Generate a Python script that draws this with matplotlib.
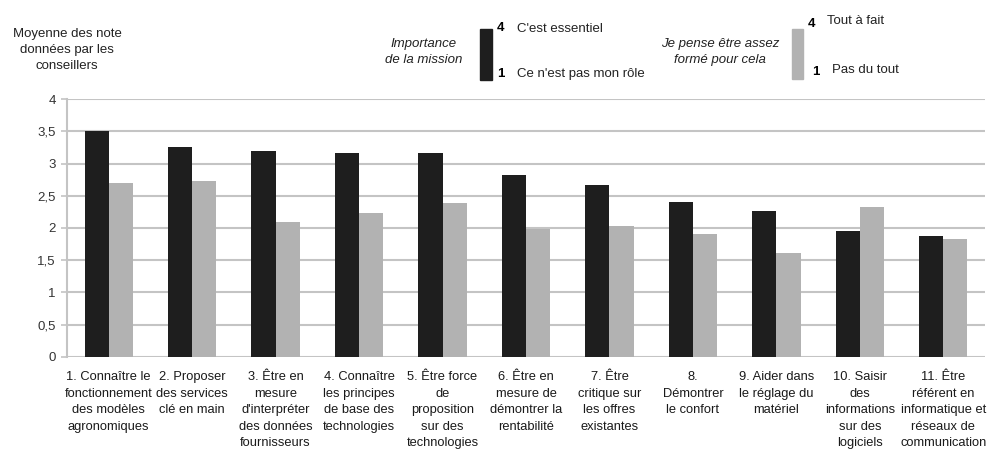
import matplotlib
matplotlib.use("Agg")
import matplotlib.pyplot as plt
from matplotlib.patches import Rectangle
import numpy as np

categories = [
    "1. Connaître le\nfonctionnement\ndes modèles\nagronomiques",
    "2. Proposer\ndes services\nclé en main",
    "3. Être en\nmesure\nd'interpréter\ndes données\nfournisseurs",
    "4. Connaître\nles principes\nde base des\ntechnologies",
    "5. Être force\nde\nproposition\nsur des\ntechnologies",
    "6. Être en\nmesure de\ndémontrer la\nrentabilité",
    "7. Être\ncritique sur\nles offres\nexistantes",
    "8.\nDémontrer\nle confort",
    "9. Aider dans\nle réglage du\nmatériel",
    "10. Saisir\ndes\ninformations\nsur des\nlogiciels",
    "11. Être\nréférent en\ninformatique et\nréseaux de\ncommunication",
]
importance = [3.50, 3.26, 3.19, 3.17, 3.16, 2.82, 2.67, 2.40, 2.26, 1.96, 1.87]
formation = [2.70, 2.73, 2.09, 2.23, 2.39, 1.99, 2.03, 1.91, 1.61, 2.33, 1.83]
y_ticks = [0, 0.5, 1, 1.5, 2, 2.5, 3, 3.5, 4]

DARK = "#1e1e1e"
LIGHT = "#b2b2b2"
GRID = "#c4c4c4"
TXT = "#222222"
FONT = "Liberation Sans"
LEG = 9.5

plt.rcParams["font.family"] = [FONT, "DejaVu Sans"]

fig = plt.figure(figsize=(10.02, 4.53), dpi=100)
W, H = 1002, 453
left, right, top, bottom = 67, 985, 99.3, 356.7
ax = fig.add_axes([left / W, 1 - bottom / H, (right - left) / W, (bottom - top) / H])

x = np.arange(len(categories))
bw = 0.29
ax.bar(x - bw / 2, importance, width=bw, color=DARK, zorder=3)
ax.bar(x + bw / 2, formation, width=bw, color=LIGHT, zorder=3)

ax.set_xlim(-0.5, len(categories) - 0.5)
ax.set_ylim(0, 4)
ax.set_yticks(y_ticks)
ax.set_yticklabels([f"{v:g}".replace(".", ",") for v in y_ticks], fontsize=9.5, color="#333333")
ax.tick_params(axis="y", length=4, color=GRID, width=1.2, pad=4)
ax.yaxis.grid(True, color=GRID, linewidth=1.5, zorder=0)
ax.set_axisbelow(True)
for s in ["top", "right", "bottom"]:
    ax.spines[s].set_visible(False)
ax.spines["left"].set_color(GRID)
ax.spines["left"].set_linewidth(1.5)

ax.set_xticks(x)
ax.set_xticklabels(categories, fontsize=9.3, linespacing=1.5, color="#1a1a1a", va="top")
ax.tick_params(axis="x", length=0, pad=10.5)

# Y-axis title above the axis
fig.text(67 / W, 1 - 50 / H, "Moyenne des note\ndonnées par les\nconseillers",
         ha="center", va="center", fontsize=LEG, linespacing=1.4, color=TXT)

# Custom legend: importance of the mission
fig.text(424 / W, 1 - 52 / H, "Importance\nde la mission", ha="center", va="center",
         fontsize=LEG, style="italic", linespacing=1.4, color=TXT)
fig.patches.append(Rectangle((480 / W, 1 - 80 / H), 12 / W, 51 / H,
                             transform=fig.transFigure, color=DARK))
fig.text(497 / W, 1 - 28 / H, "4", fontsize=LEG, fontweight="bold", va="center")
fig.text(517 / W, 1 - 29 / H, "C'est essentiel", fontsize=LEG, va="center", color=TXT)
fig.text(497 / W, 1 - 74 / H, "1", fontsize=LEG, fontweight="bold", va="center")
fig.text(517 / W, 1 - 74 / H, "Ce n'est pas mon rôle", fontsize=LEG, va="center", color=TXT)

# Custom legend: training
fig.text(720 / W, 1 - 52 / H, "Je pense être assez\nformé pour cela", ha="center", va="center",
         fontsize=LEG, style="italic", linespacing=1.4, color=TXT)
fig.patches.append(Rectangle((792 / W, 1 - 79 / H), 11 / W, 50 / H,
                             transform=fig.transFigure, color=LIGHT))
fig.text(808 / W, 1 - 24 / H, "4", fontsize=LEG, fontweight="bold", va="center")
fig.text(827 / W, 1 - 21 / H, "Tout à fait", fontsize=LEG, va="center", color=TXT)
fig.text(812 / W, 1 - 72 / H, "1", fontsize=LEG, fontweight="bold", va="center")
fig.text(832 / W, 1 - 70 / H, "Pas du tout", fontsize=LEG, va="center", color=TXT)

fig.savefig("out.png", dpi=100)
